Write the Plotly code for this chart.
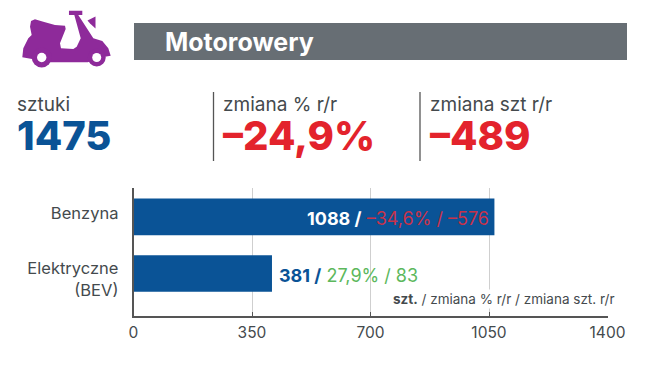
import plotly.graph_objects as go

FONT = "Inter"
DARK = "#444a4d"
BLUE = "#0a5396"
RED = "#e3232c"
GREEN = "#5cb85c"

title = "Motorowery"
kpi_labels = ["sztuki", "zmiana % r/r", "zmiana szt r/r"]
kpi_values = ["1475", "–24,9%", "–489"]
kpi_colors = [BLUE, RED, RED]

categories = ["Benzyna", "Elektryczne<br>(BEV)"]
# Bar lengths as drawn in the picture, on its 0-1400 axis; the printed figures differ.
drawn_lengths = [1066, 409]
printed_units = ["1088", "381"]
printed_pct = ["–34,6%", "27,9%"]
printed_diff = ["–576", "83"]
x_ticks = [0, 350, 700, 1050, 1400]


def px(x):
    return x / 660


def py(y):
    return 1 - y / 380


def path(points):
    return "M" + " L".join(f"{px(x):.4f},{py(y):.4f}" for x, y in points) + " Z"


fig = go.Figure(
    go.Bar(
        x=drawn_lengths,
        y=list(range(len(categories))),
        orientation="h",
        width=0.65,
        marker=dict(color=BLUE, line_width=0),
        hoverinfo="skip",
    )
)

shapes = [
    dict(type="rect", xref="paper", yref="paper", x0=px(134), x1=px(627), y0=py(23), y1=py(60),
         fillcolor="#676e74", line_width=0),
    dict(type="line", xref="paper", yref="paper", x0=px(213.5), x1=px(213.5), y0=py(92), y1=py(161),
         line=dict(color="#555", width=1.3)),
    dict(type="line", xref="paper", yref="paper", x0=px(420), x1=px(420), y0=py(92), y1=py(161),
         line=dict(color="#555", width=1.3)),
]

ICON = "#8e2a9a"
body = [(31, 21), (35, 19.3), (43.3, 21.7), (55, 25), (65, 25.7), (65.7, 29), (60, 43.3), (61, 48.3),
        (73.3, 49), (76.7, 46.7), (80.7, 38.3), (74.3, 15), (69, 15), (69, 10.7), (82.3, 10.7),
        (82.3, 15), (78.3, 15), (93.3, 38.3), (102.3, 41), (108.3, 48.3), (110.7, 55.7), (105, 56.7),
        (87.7, 62.3), (50, 62.3), (22.3, 57.3), (23.3, 48.3), (28.3, 38.3), (31.7, 35), (30, 26.7)]
flag = [(87.5, 20.5), (95.5, 16.5), (95.5, 28.5), (90, 23.5)]
shapes.append(dict(type="path", xref="paper", yref="paper", path=path(body), fillcolor=ICON, line_width=0))
shapes.append(dict(type="path", xref="paper", yref="paper", path=path(flag), fillcolor=ICON, line_width=0))
for cx, cy, r, col in [(41.7, 57.5, 10, ICON), (96.7, 57.5, 9, ICON), (41.7, 57.5, 4.7, "white"), (96.7, 57.5, 4.5, "white")]:
    shapes.append(dict(type="circle", xref="paper", yref="paper", x0=px(cx - r), x1=px(cx + r),
                       y0=py(cy - r), y1=py(cy + r), fillcolor=col, line_width=0))

ann = [
    dict(x=px(163), y=py(42), xref="paper", yref="paper", text=f"<b>{title}</b>", showarrow=False,
         xanchor="left", yanchor="middle", font=dict(size=25, color="white", family=FONT)),
]
kpi_x = [17, 223, 430]
for x, lab, val, col in zip(kpi_x, kpi_labels, kpi_values, kpi_colors):
    text = (f"<span style='font-size:19px;color:{DARK}'>{lab}</span><br>"
            f"<span style='font-size:40px;font-weight:800;color:{col}'>{val}</span>")
    ann.append(dict(x=px(x), y=py(126.5), xref="paper", yref="paper", text=text, showarrow=False, align="left",
                    xanchor="left", yanchor="middle", xshift=-2, font=dict(size=30, color=col, family=FONT)))

ann.append(dict(x=drawn_lengths[0], y=0, xref="x", yref="y", showarrow=False, xanchor="right", yanchor="middle",
                xshift=-3, yshift=-2,
                text=f"<b>{printed_units[0]} /</b> <span style='color:#c8324a'>{printed_pct[0]} / {printed_diff[0]}</span>",
                font=dict(size=18, color="white", family=FONT)))
ann.append(dict(x=drawn_lengths[1], y=1, xref="x", yref="y", showarrow=False, xanchor="left", yanchor="middle",
                xshift=5, yshift=-2,
                text=f"<b>{printed_units[1]} /</b> <span style='color:{GREEN}'>{printed_pct[1]} / {printed_diff[1]}</span>",
                font=dict(size=18, color=BLUE, family=FONT)))
ann.append(dict(x=px(391), y=py(299), xref="paper", yref="paper", showarrow=False, xanchor="left", yanchor="middle",
                text="<b>szt.</b> / zmiana % r/r / zmiana szt. r/r", bgcolor="white",
                font=dict(size=13.5, color=DARK, family=FONT)))

fig.update_layout(
    width=660,
    height=380,
    margin=dict(l=0, r=0, t=0, b=0, autoexpand=False),
    paper_bgcolor="white",
    plot_bgcolor="white",
    showlegend=False,
    font=dict(family=FONT, color=DARK),
    shapes=shapes,
    annotations=ann,
    xaxis=dict(
        domain=[133.5 / 660, 607.5 / 660],
        range=[0, 1400],
        tickmode="array",
        tickvals=x_ticks,
        ticktext=[str(t) for t in x_ticks],
        tickfont=dict(size=15.5, color=DARK, family=FONT),
        ticks="inside",
        ticklen=4,
        tickcolor="#555",
        ticklabelstandoff=2,
        showgrid=True,
        gridcolor="#cfcfcf",
        gridwidth=1.2,
        zeroline=False,
        showline=True,
        linecolor="#555",
        linewidth=1.5,
        fixedrange=True,
    ),
    yaxis=dict(
        domain=[(380 - 316) / 380, (380 - 188) / 380],
        range=[1.752, -0.513],
        tickmode="array",
        tickvals=[-0.07, 1.1],
        ticktext=categories,
        tickfont=dict(size=16.5, color=DARK, family=FONT),
        ticks="",
        ticklabelstandoff=10,
        showgrid=False,
        zeroline=False,
        showline=True,
        linecolor="#555",
        linewidth=1.5,
        fixedrange=True,
    ),
)
fig.write_html("out.html", config=dict(displayModeBar=False),
               post_script="document.body.style.margin='0';")
